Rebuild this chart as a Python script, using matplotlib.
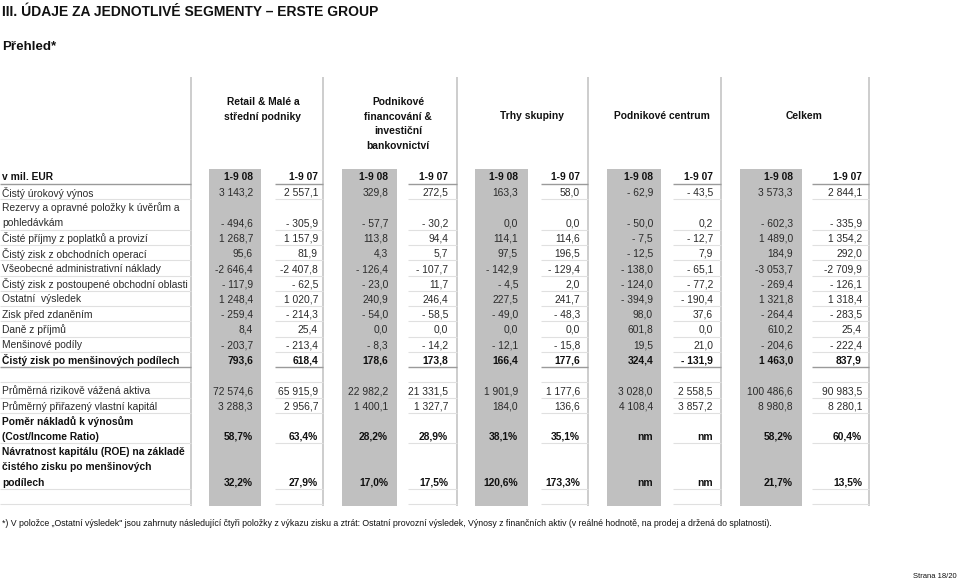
import matplotlib
matplotlib.use("Agg")
import matplotlib.pyplot as plt
from matplotlib.patches import Rectangle

plt.rcParams["font.family"] = ["Liberation Sans", "DejaVu Sans"]

TITLE    = "III. ÚDAJE ZA JEDNOTLIVÉ SEGMENTY – ERSTE GROUP"
SUBTITLE = "Přehled*"
UNIT     = "v mil. EUR"
PERIODS  = ["1-9 08", "1-9 07"]

SEGMENTS = [
    ["Retail & Malé a", "střední podniky"],
    ["Podnikové", "financování &", "investiční", "bankovnictví"],
    ["Trhy skupiny"],
    ["Podnikové centrum"],
    ["Celkem"],
]

ROW_LABELS = [
    "Čistý úrokový výnos",
    "Rezervy a opravné položky k úvěrům a\npohledávkám",
    "Čisté příjmy z poplatků a provizí",
    "Čistý zisk z obchodních operací",
    "Všeobecné administrativní náklady",
    "Čistý zisk z postoupené obchodní oblasti",
    "Ostatní  výsledek",
    "Zisk před zdaněním",
    "Daně z příjmů",
    "Menšinové podíly",
    "Čistý zisk po menšinových podílech",
    "",
    "Průměrná rizikově vážená aktiva",
    "Průměrný přiřazený vlastní kapitál",
    "Poměr nákladů k výnosům\n(Cost/Income Ratio)",
    "Návratnost kapitálu (ROE) na základě\nčistého zisku po menšinových\npodílech",
]
BOLD_ROWS    = {10, 14, 15}
PERCENT_ROWS = {14, 15}

# values per column, one entry per row (None = blank / nm)
retail_08  = [3143.2, -494.6, 1268.7, 95.6, -2646.4, -117.9, 1248.4, -259.4, 8.4, -203.7, 793.6, None, 72574.6, 3288.3, 58.7, 32.2]
retail_07  = [2557.1, -305.9, 1157.9, 81.9, -2407.8, -62.5, 1020.7, -214.3, 25.4, -213.4, 618.4, None, 65915.9, 2956.7, 63.4, 27.9]
corp_08    = [329.8, -57.7, 113.8, 4.3, -126.4, -23.0, 240.9, -54.0, 0.0, -8.3, 178.6, None, 22982.2, 1400.1, 28.2, 17.0]
corp_07    = [272.5, -30.2, 94.4, 5.7, -107.7, 11.7, 246.4, -58.5, 0.0, -14.2, 173.8, None, 21331.5, 1327.7, 28.9, 17.5]
markets_08 = [163.3, 0.0, 114.1, 97.5, -142.9, -4.5, 227.5, -49.0, 0.0, -12.1, 166.4, None, 1901.9, 184.0, 38.1, 120.6]
markets_07 = [58.0, 0.0, 114.6, 196.5, -129.4, 2.0, 241.7, -48.3, 0.0, -15.8, 177.6, None, 1177.6, 136.6, 35.1, 173.3]
center_08  = [-62.9, -50.0, -7.5, -12.5, -138.0, -124.0, -394.9, 98.0, 601.8, 19.5, 324.4, None, 3028.0, 4108.4, "nm", "nm"]
center_07  = [-43.5, 0.2, -12.7, 7.9, -65.1, -77.2, -190.4, 37.6, 0.0, 21.0, -131.9, None, 2558.5, 3857.2, "nm", "nm"]
total_08   = [3573.3, -602.3, 1489.0, 184.9, -3053.7, -269.4, 1321.8, -264.4, 610.2, -204.6, 1463.0, None, 100486.6, 8980.8, 58.2, 21.7]
total_07   = [2844.1, -335.9, 1354.2, 292.0, -2709.9, -126.1, 1318.4, -283.5, 25.4, -222.4, 837.9, None, 90983.5, 8280.1, 60.4, 13.5]
COLUMNS = [retail_08, retail_07, corp_08, corp_07, markets_08, markets_07,
           center_08, center_07, total_08, total_07]

FOOTNOTE = ("*) V položce „Ostatní výsledek\" jsou zahrnuty následující čtyři položky z výkazu zisku a ztrát: "
            "Ostatní provozní výsledek, Výnosy z finančních aktiv (v reálné hodnotě, na prodej a držená do splatnosti).")
PAGE = "Strana 18/20"

# layout (pixels)
COL_RIGHT  = [253, 318, 388, 448, 518, 580, 653, 713, 793, 862]
GRAY_X     = [(209, 261), (342, 397), (475, 528), (607, 661), (740, 802)]
LINE_X     = [(275, 323), (408, 457), (541, 588), (673, 721), (812, 869)]
VLINES     = [191, 323, 457, 588, 721, 869]
SEG_X      = [263, 398, 532, 662, 804]
SEG_Y0     = [102, 102, 116, 116, 116]
ROW0, ROWH = 177.5, 15.25
FS         = 7.4
GREY_TXT   = "#2b2b2b"


def fmt(v, pct):
    if v is None:
        return ""
    if isinstance(v, str):
        return v
    if pct:
        return f"{v:.1f}".replace(".", ",") + "%"
    s = f"{abs(v):,.1f}".replace(",", " ").replace(".", ",")
    if v < 0:
        s = ("-" if abs(v) >= 1000 else "- ") + s
    return s


fig = plt.figure(figsize=(9.6, 5.8), dpi=100)
ax = fig.add_axes([0, 0, 1, 1])
ax.set_xlim(0, 960)
ax.set_ylim(580, 0)
ax.axis("off")

ax.text(2, 12.5, TITLE, fontsize=10.0, fontweight="bold", va="center", color="#111111")
ax.text(2, 47, SUBTITLE, fontsize=9.6, fontweight="bold", va="center", color="#111111")

# shaded current-period columns
for x0, x1 in GRAY_X:
    ax.add_patch(Rectangle((x0, 169), x1 - x0, 506 - 169, color="#c0c0c0", lw=0, zorder=0))
ax.vlines(VLINES, 77, 506, color="#c9c9c9", lw=1.3, zorder=1)

# segment headers
for lines, x, y0 in zip(SEGMENTS, SEG_X, SEG_Y0):
    for k, t in enumerate(lines):
        ax.text(x, y0 + 14.6 * k, t, fontsize=FS, fontweight="bold", ha="center",
                va="center", color="#111111")


def hline(y, dark=False):
    c, w = ("#9a9a9a", 1.0) if dark else ("#e0e0e0", 0.8)
    ax.hlines(y, 0, 191, color=c, lw=w, zorder=1)
    for x0, x1 in LINE_X:
        ax.hlines(y, x0, x1, color=c, lw=w, zorder=1)


# header row
ax.text(2, ROW0, UNIT, fontsize=FS, fontweight="bold", va="center", color="#111111")
for j, xr in enumerate(COL_RIGHT):
    ax.text(xr, ROW0, PERIODS[j % 2], fontsize=FS, fontweight="bold", ha="right",
            va="center", color="#111111")
hline(ROW0 + 6.5, dark=True)

line_idx = 1
for i, label in enumerate(ROW_LABELS):
    n = max(1, label.count("\n") + 1)
    bold = i in BOLD_ROWS
    w = "bold" if bold else "normal"
    col = "#111111" if bold else GREY_TXT
    for k, part in enumerate(label.split("\n")):
        ax.text(2, ROW0 + ROWH * (line_idx + k), part, fontsize=FS, fontweight=w,
                va="center", color=col)
    yv = ROW0 + ROWH * (line_idx + n - 1)
    for xr, values in zip(COL_RIGHT, COLUMNS):
        ax.text(xr, yv, fmt(values[i], i in PERCENT_ROWS), fontsize=FS, fontweight=w,
                ha="right", va="center", color=col)
    hline(yv + 6.5, dark=(i == 10))
    line_idx += n
hline(ROW0 + ROWH * line_idx + 6.5)

ax.text(2, 523, FOOTNOTE, fontsize=6.35, va="center", color="#111111")
ax.text(957, 577, PAGE, fontsize=5.5, ha="right", va="center", color="#111111")

fig.savefig("out.png", dpi=100)
